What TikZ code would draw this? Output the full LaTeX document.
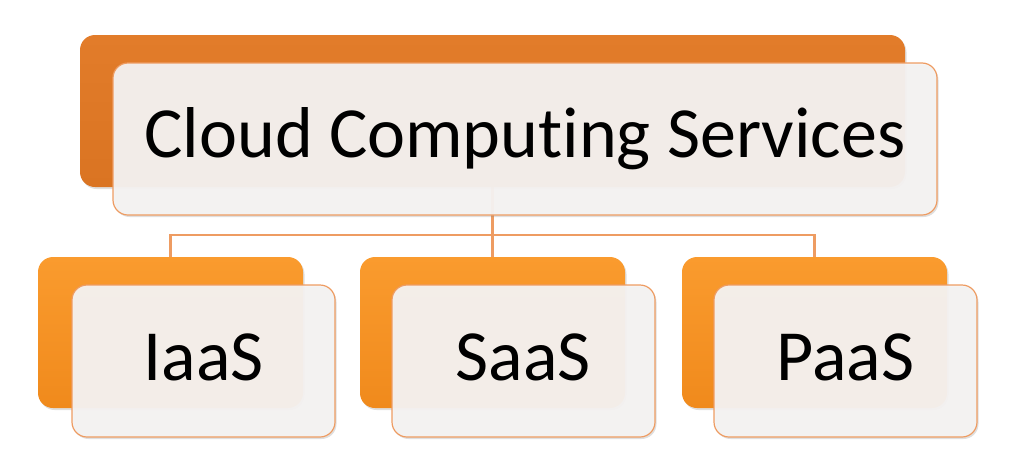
\documentclass[tikz,border=0pt]{standalone}
\usepackage{fontspec}
\setmainfont{Carlito}[Ligatures={NoCommon,NoRare,NoContextual}]
\usetikzlibrary{shadows,backgrounds}
\definecolor{darkorange}{HTML}{E27C2A}
\definecolor{darkorangelow}{HTML}{DA7422}
\definecolor{liteorange}{HTML}{FA9B2E}
\definecolor{liteorangelow}{HTML}{F08A1C}
\definecolor{rimorange}{HTML}{EE9C62}
\definecolor{paper}{HTML}{F5F3F2}

\begin{document}
\begin{tikzpicture}[x=1pt,y=-1pt,
	backbox/.style={rounded corners=15pt, inner sep=0pt, minimum width=265pt, minimum height=151pt,
		top color=liteorange, bottom color=liteorangelow,
		drop shadow={shadow xshift=1.5pt, shadow yshift=-2pt, opacity=.25}},
	frontbox/.style={rounded corners=15pt, inner sep=0pt, minimum width=263pt, minimum height=152pt,
		draw=rimorange, line width=1.2pt, fill=paper, fill opacity=.95, text opacity=1,
		font=\fontsize{72}{80}\selectfont,
		drop shadow={shadow xshift=1.5pt, shadow yshift=-2pt, opacity=.25}},
	link/.style={draw=rimorange, line width=2.2pt}]
	%%%%% START %%%%%
	
	\useasboundingbox (0, 0) rectangle (1022, 469);
	
	% top level
	\node[backbox, minimum width=825pt, minimum height=152pt, top color=darkorange, bottom color=darkorangelow] (topback) at (492.5, 111) {};
	\node[frontbox, minimum width=824pt] (top) at (525, 139) {Cloud Computing Services};
	
	% children
	\node[backbox] (iback) at (170.5, 332.5) {};
	\node[frontbox, text depth=8pt] (iaas) at (203.5, 361) {IaaS};
	
	\node[backbox] (sback) at (492.5, 332.5) {};
	\node[frontbox, text depth=8pt] (saas) at (523.5, 361) {SaaS};
	
	\node[backbox] (pback) at (814.5, 332.5) {};
	\node[frontbox, text depth=8pt] (paas) at (845.5, 361) {PaaS};
	
	% connectors
	\begin{scope}[on background layer]
		\draw[link] (topback.south) -- ++(0, 48) coordinate (bus);
		\draw[link] (bus) -| (iback.north);
		\draw[link] (bus) -| (pback.north);
		\draw[link] (bus) -- (sback.north);
	\end{scope}
	
	%%%%% END %%%%%
\end{tikzpicture}
\end{document}
